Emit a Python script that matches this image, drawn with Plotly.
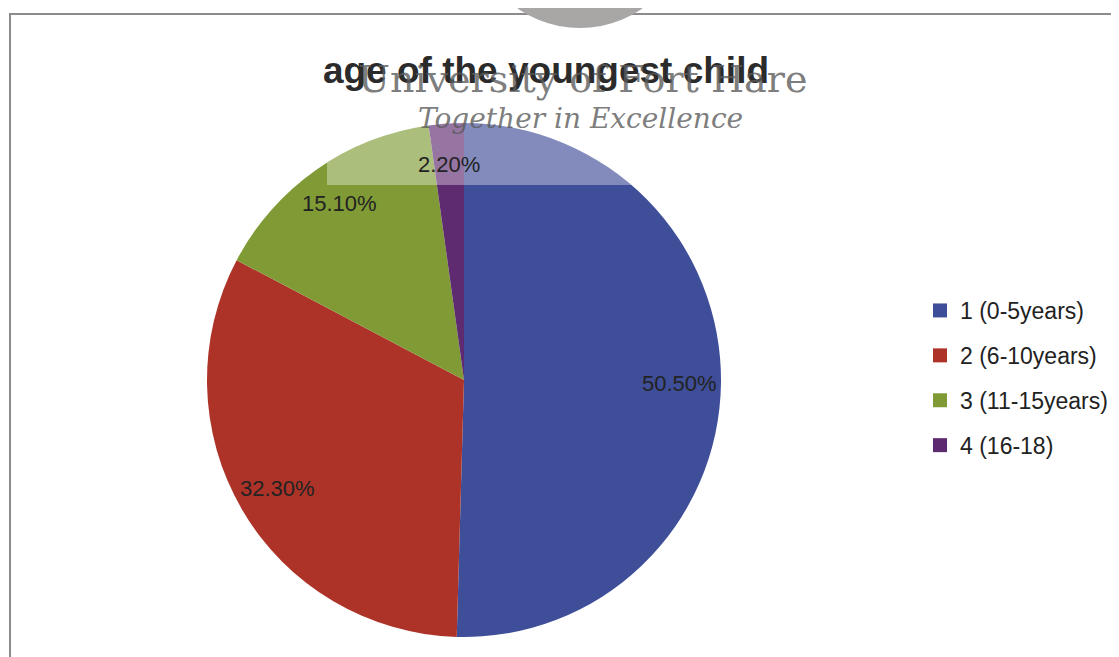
"""Pie chart: age of the youngest child."""
import math

import plotly.graph_objects as go

W, H = 1119, 657
OFF = 8  # page body margin in the browser

categories = ["1 (0-5years)", "2 (6-10years)", "3 (11-15years)", "4 (16-18)"]
shares = [50.5, 32.3, 15.1, 2.2]
colors = ["#3f4e99", "#ad3328", "#809b36", "#5e2b70"]

# pie geometry in screen pixels (centre / radius)
CX, CY, R = 464, 380, 257
LABEL_R = 0.84


def fx(x):
    return (x - OFF) / W


def fy(y):
    return 1 - (y - OFF) / H


fig = go.Figure()

fig.add_trace(
    go.Pie(
        labels=categories,
        values=shares,
        sort=False,
        direction="clockwise",
        rotation=0,
        marker=dict(colors=colors, line=dict(width=0)),
        textinfo="none",
        hoverinfo="label+percent",
        showlegend=False,
        domain=dict(x=[fx(CX - R), fx(CX + R)], y=[fy(CY + R), fy(CY - R)]),
    )
)

# legend entries as dummy traces so the rows can be spaced like the original
for name, col in zip(categories, colors):
    fig.add_trace(
        go.Scatter(
            x=[None], y=[None], mode="markers", name=name, legendgroup=name,
            marker=dict(symbol="square", size=14, color=col),
        )
    )

# percentage labels at the middle angle of each slice
total = sum(shares)
annotations = []
cum = 0.0
for v in shares:
    mid = (cum + v / 2) / total * 2 * math.pi
    cum += v
    annotations.append(
        dict(
            x=fx(CX + LABEL_R * R * math.sin(mid)), y=fy(CY - LABEL_R * R * math.cos(mid)),
            xref="paper", yref="paper", xanchor="center", yanchor="middle", showarrow=False,
            text=f"{v:.2f}%", font=dict(family="Liberation Sans", size=22, color="#222222"),
        )
    )

# scanned watermark
annotations += [
    dict(
        x=fx(582), y=fy(79), xref="paper", yref="paper", xanchor="center", yanchor="middle",
        showarrow=False, text="University of Fort Hare",
        font=dict(family="DejaVu Serif", size=38, color="rgba(90,90,90,0.8)"),
    ),
    dict(
        x=fx(580), y=fy(118), xref="paper", yref="paper", xanchor="center", yanchor="middle",
        showarrow=False, text="<i>Together in Excellence</i>",
        font=dict(family="DejaVu Serif", size=28, color="rgba(90,90,90,0.8)"),
    ),
]

shapes = [
    dict(type="rect", xref="paper", yref="paper", x0=fx(10), x1=fx(1140), y0=fy(680), y1=fy(14),
         line=dict(color="#8c8c8c", width=2), layer="below"),
    dict(type="rect", xref="paper", yref="paper", x0=fx(327), x1=fx(650), y0=fy(185), y1=fy(95),
         fillcolor="rgba(255,255,255,0.35)", line=dict(width=0), layer="above"),
    dict(type="circle", xref="paper", yref="paper", x0=fx(471), x1=fx(689), y0=fy(28), y1=fy(-190),
         fillcolor="#a9a6a6", line=dict(width=0), layer="above"),
]

fig.update_layout(
    width=W,
    height=H,
    margin=dict(l=0, r=0, t=0, b=0),
    paper_bgcolor="white",
    plot_bgcolor="white",
    title=dict(
        text="<b>age of the youngest child</b>",
        x=fx(546), xanchor="center", y=fy(70), yanchor="middle",
        font=dict(family="Liberation Sans", size=37, color="#2b2b2b"),
    ),
    xaxis=dict(visible=False),
    yaxis=dict(visible=False),
    legend=dict(
        x=fx(920), xanchor="left", y=fy(289), yanchor="top",
        font=dict(family="Liberation Sans", size=23, color="#222222"),
        tracegroupgap=12,
        bgcolor="rgba(0,0,0,0)",
    ),
    annotations=annotations,
    shapes=shapes,
)

fig.write_html("out.html")
